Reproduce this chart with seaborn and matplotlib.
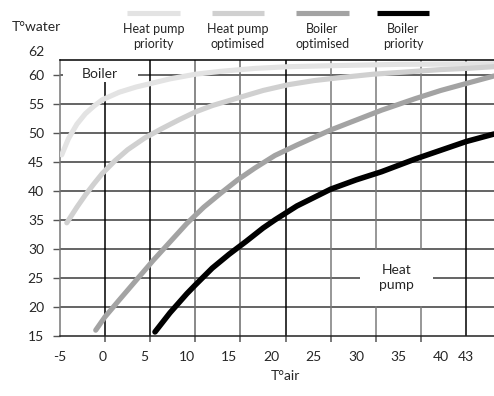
import matplotlib
matplotlib.use("Agg")
import matplotlib.pyplot as plt
import seaborn as sns
import pandas as pd
from matplotlib.lines import Line2D
from matplotlib.patches import Rectangle

# Water temperature versus outdoor air temperature for each control strategy
hp_priority_air = [-4.8, -4.0, -3.0, -2.0, -1.0, 0.0, 2.0, 4.0, 6.0, 8.0, 11.0,
                   14.0, 18.0, 22.0, 28.0, 35.0, 46.3]
hp_priority_water = [46.2, 49.0, 51.5, 53.3, 54.6, 55.7, 57.0, 57.9, 58.6, 59.3, 60.1,
                     60.6, 61.1, 61.4, 61.6, 61.8, 61.9]

hp_optimised_air = [-4.2, -3.0, -2.0, -1.0, 0.0, 1.5, 3.0, 5.0, 7.0, 9.0, 11.0, 13.0,
                    16.0, 19.0, 22.0, 25.0, 28.0, 32.0, 36.0, 40.0, 43.0, 46.3]
hp_optimised_water = [34.5, 37.2, 39.3, 41.2, 43.0, 45.2, 47.1, 49.1, 50.7, 52.2, 53.6, 54.7,
                      56.0, 57.3, 58.3, 59.0, 59.5, 60.1, 60.5, 60.9, 61.1, 61.4]

boiler_optimised_air = [-0.78, 0.32, 2.0, 4.0, 6.0, 8.0, 10.0, 12.0, 14.0, 16.0, 18.0,
                        20.4, 23.0, 27.0, 30.0, 33.0, 37.0, 40.0, 43.0, 46.3]
boiler_optimised_water = [16.0, 18.3, 21.2, 24.6, 28.0, 31.2, 34.4, 37.2, 39.6, 41.9, 43.9,
                          46.1, 47.9, 50.5, 52.2, 53.9, 55.9, 57.3, 58.5, 59.8]

boiler_priority_air = [6.23, 8.0, 10.0, 11.0, 13.0, 15.0, 17.0, 19.0, 20.4, 23.0, 27.0,
                       30.0, 33.0, 37.0, 40.0, 43.0, 46.3]
boiler_priority_water = [15.7, 19.0, 22.3, 23.8, 26.7, 29.1, 31.3, 33.6, 35.0, 37.4, 40.3,
                         41.9, 43.3, 45.5, 47.0, 48.5, 49.8]

series_names = ["Heat pump\npriority", "Heat pump\noptimised", "Boiler\noptimised", "Boiler\npriority"]
series_colors = ["#e3e3e3", "#d0d0d0", "#a3a3a3", "#000000"]

x_ticks = [-5, 0, 5, 10, 15, 20, 25, 30, 35, 40, 43]
y_ticks = [15, 20, 25, 30, 35, 40, 45, 50, 55, 60]

sns.set_style("white")
plt.rcParams["font.family"] = ["Lato", "DejaVu Sans"]

fig = plt.figure(figsize=(4.94, 3.96), dpi=100)
ax = fig.add_axes([60 / 494, 60 / 396, 434 / 494, 275.7 / 396])
ax.set_xlim(-5, 46.3)
ax.set_ylim(15, 62.5)

# horizontal grid
for yv in y_ticks[1:]:
    ax.axhline(yv, color="#3a3a3a", lw=1.1, zorder=1)

# vertical grid: nine equal divisions between -5 and 43
grid_x = [-5 + 48 * k / 9 for k in range(1, 10)]
grid_colors = ["#000000", "#000000", "#6a6a6a", "#6a6a6a", "#000000",
               "#7a7a7a", "#7a7a7a", "#7a7a7a", "#000000"]
for gx, gc in zip(grid_x, grid_colors):
    ax.axvline(gx, color=gc, lw=1.1, zorder=1)

# region labels on white boxes
ax.add_patch(Rectangle((-4.7, 58.7), 8.9, 4.0, facecolor="white", edgecolor="none", zorder=2))
ax.text(-0.3, 60.2, "Boiler", ha="center", va="center", fontsize=10, zorder=3)
ax.add_patch(Rectangle((30.5, 20.2), 8.6, 9.6, facecolor="white", edgecolor="none", zorder=2))
ax.text(34.8, 25.0, "Heat\npump", ha="center", va="center", fontsize=10, linespacing=1.3, zorder=3)

curves = [
    (hp_priority_air, hp_priority_water),
    (hp_optimised_air, hp_optimised_water),
    (boiler_optimised_air, boiler_optimised_water),
    (boiler_priority_air, boiler_priority_water),
]
for (xs, ys), name, col in zip(curves, series_names, series_colors):
    df = pd.DataFrame({"air": xs, "water": ys})
    sns.lineplot(data=df, x="air", y="water", color=col,
                 lw=4.0 if col == "#000000" else 3.7, ax=ax, zorder=4,
                 sort=False, estimator=None)

ax.set_xlabel("")
ax.set_ylabel("")

# spines
ax.spines["right"].set_visible(False)
ax.spines["top"].set_color("#000000")
ax.spines["bottom"].set_color("#222222")
ax.spines["left"].set_color("#777777")
for s in ax.spines.values():
    s.set_linewidth(1.1)

# ticks
ax.set_yticks(y_ticks)
ax.set_yticklabels([str(v) for v in y_ticks])
ax.tick_params(axis="y", length=5, width=1.0, color="#555555", pad=6.5,
               labelsize=10, direction="out", left=True)
ax.set_xticks(x_ticks)
ax.set_xticklabels([str(v) for v in x_ticks])
ax.set_xticks([-5] + grid_x, minor=True)
ax.tick_params(axis="x", which="major", length=0, pad=11, labelsize=10)
ax.tick_params(axis="x", which="minor", length=4, width=1.1, color="#555555",
               direction="out", bottom=True)
ax.annotate("62", xy=(0, 64.0), xycoords=("axes fraction", "data"),
            xytext=(-11.5, 0), textcoords="offset points",
            ha="right", va="center", fontsize=10, annotation_clip=False)

# axis titles
fig.text(36.7 / 494, 1 - 27 / 396, "T°water", ha="center", va="center", fontsize=10)
fig.text(285 / 494, 1 - 376 / 396, "T°air", ha="center", va="center", fontsize=10)

# legend: line sample above a two-line label
legend_x = [(126.7, 180), (211.7, 264.3), (296, 348.7), (376.7, 429.3)]
for (x0, x1), name, col in zip(legend_x, series_names, series_colors):
    fig.add_artist(Line2D([x0 / 494, x1 / 494], [1 - 12.5 / 396] * 2,
                          color=col, lw=3.7, solid_capstyle="butt"))
    fig.text((x0 + x1) / 2 / 494, 1 - 36.5 / 396, name, ha="center", va="center",
             fontsize=9, linespacing=1.35)

fig.savefig("out.png", dpi=100)
